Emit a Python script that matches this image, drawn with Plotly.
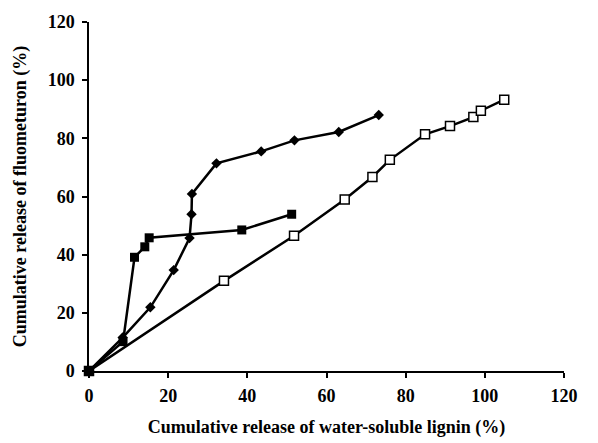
import plotly.graph_objects as go

# Series: filled diamonds
dia_x = [0, 8.5, 15.5, 21.4, 25.4, 25.9, 26.0, 32.2, 43.5, 51.9, 63.1, 73.2]
dia_y = [0, 11.5, 21.9, 34.7, 45.7, 53.9, 60.9, 71.4, 75.5, 79.3, 82.2, 88.0]

# Series: filled squares
sq_x = [0, 8.6, 11.5, 14.1, 15.2, 38.6, 51.2]
sq_y = [0, 10.1, 39.1, 42.7, 45.8, 48.5, 53.9]

# Series: open squares
osq_x = [0, 34.1, 51.8, 64.6, 71.6, 76.0, 84.9, 91.2, 97.1, 99.0, 104.9]
osq_y = [0, 31.0, 46.5, 59.0, 66.7, 72.6, 81.4, 84.2, 87.3, 89.5, 93.3]

tick_vals = [0, 20, 40, 60, 80, 100, 120]
tick_text = ["<b>%d</b>" % v for v in tick_vals]
x_title = "Cumulative release of water-soluble lignin (%)"
y_title = "Cumulative release of fluometuron (%)"

fig = go.Figure()
line = dict(color="black", width=2.5)
fig.add_trace(go.Scatter(x=osq_x, y=osq_y, mode="lines+markers", line=line,
                         marker=dict(symbol="square", size=9, color="white",
                                     line=dict(color="black", width=1.5)),
                         cliponaxis=False))
fig.add_trace(go.Scatter(x=dia_x, y=dia_y, mode="lines+markers", line=line,
                         marker=dict(symbol="diamond", size=8, color="black"),
                         cliponaxis=False))
fig.add_trace(go.Scatter(x=sq_x, y=sq_y, mode="lines+markers", line=line,
                         marker=dict(symbol="square", size=9, color="black"),
                         cliponaxis=False))

tfont = dict(family="Liberation Serif", size=18, color="black")
fig.update_layout(
    width=590, height=435,
    margin=dict(l=81, r=34, t=14, b=72),
    paper_bgcolor="white", plot_bgcolor="white",
    showlegend=False,
    font=tfont,
)
fig.update_xaxes(range=[0, 120], tickvals=tick_vals, ticktext=tick_text,
                 ticks="outside", ticklen=5, tickwidth=1.5,
                 tickcolor="black", showline=True, linecolor="black", linewidth=1.5,
                 showgrid=False, zeroline=False, automargin=False,
                 ticklabelstandoff=3, tickfont=tfont,
                 title=dict(text="<b>" + x_title + "</b>", standoff=15, font=tfont))
fig.update_yaxes(range=[0, 120], tickvals=tick_vals, ticktext=tick_text,
                 ticks="outside", ticklen=5, tickwidth=1.5,
                 tickcolor="black", showline=True, linecolor="black", linewidth=1.5,
                 showgrid=False, zeroline=False, automargin=False,
                 ticklabelstandoff=4, tickfont=tfont,
                 title=dict(text="<b>" + y_title + "</b>", standoff=16, font=tfont))

fig.write_html("out.html")
